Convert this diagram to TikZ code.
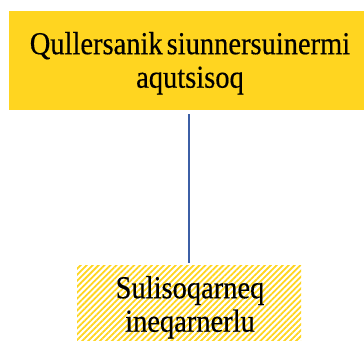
\documentclass[tikz,border=0pt]{standalone}
\usepackage{fontspec}
\setmainfont{Liberation Serif}[FakeStretch=0.89,FakeBold=0.4]
\usetikzlibrary{patterns.meta}
\definecolor{boxyellow}{HTML}{FFD520}
\definecolor{linkblue}{HTML}{3C5FA6}
\tikzset{
  lbl/.style={font=\fontsize{32}{33.5}\selectfont, align=center, text=black, inner sep=0pt},
  solidbox/.style={fill=boxyellow, draw=none, inner sep=0pt},
  hatchbox/.style={draw=none, inner sep=0pt,
    pattern={Lines[angle=45,distance=4.2pt,line width=1.8pt]}, pattern color=boxyellow},
  link/.style={draw=linkblue, line width=2.6pt}
}
\begin{document}
\begin{tikzpicture}[x=1pt,y=1pt]
\useasboundingbox (0,0) rectangle (364,340);
\clip (0,0) rectangle (364,340);
\node[solidbox, minimum width=362pt, minimum height=99pt] (top) at (190,279.5) {};
\node[lbl] (toptext) at (190,276.75) {Qullersanik\hspace{4pt}siunnersuinermi\\aqutsisoq};
\node[hatchbox, minimum width=224pt, minimum height=79pt] (bot) at (189,34.5) {};
\node[lbl] (bottext) at (190,32.7) {Sulisoqarneq\\ineqarnerlu};
\draw[link, shorten <=4pt, shorten >=2pt] (bot.north |- top.south) -- (bot.north);
\end{tikzpicture}
\end{document}
